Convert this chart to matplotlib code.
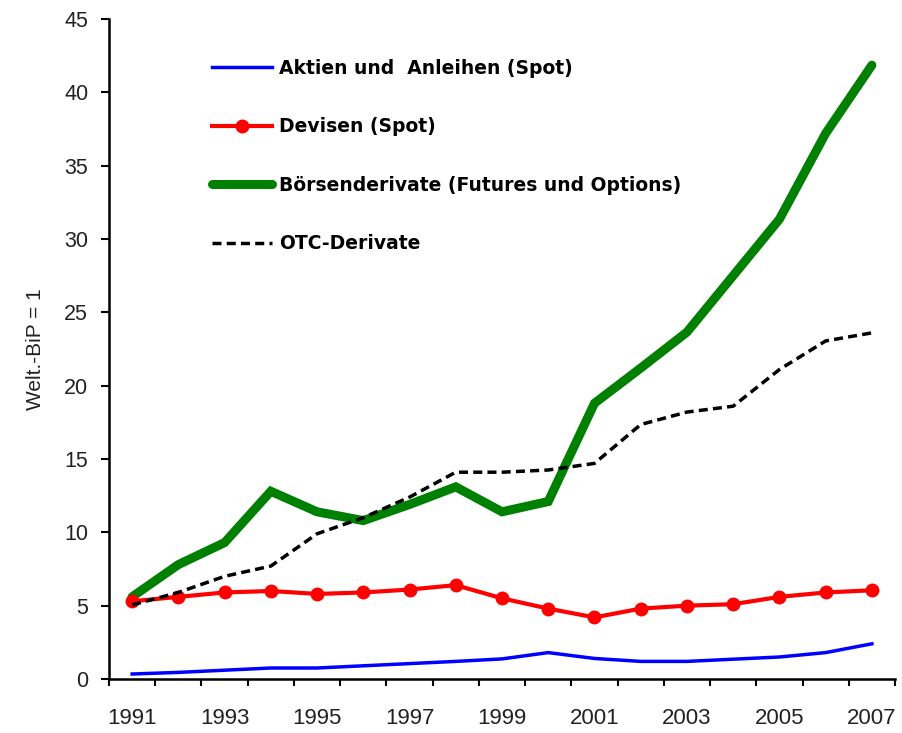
import numpy as np
import matplotlib
matplotlib.use("Agg")
import matplotlib.pyplot as plt

# Daten (Welt-BIP = 1)
jahre = list(range(1991, 2008))
aktien_anleihen = [0.34, 0.45, 0.6, 0.75, 0.75, 0.9, 1.05, 1.2, 1.37, 1.8, 1.4, 1.2, 1.2, 1.35, 1.5, 1.8, 2.4]
devisen = [5.3, 5.6, 5.9, 6.0, 5.8, 5.9, 6.1, 6.4, 5.5, 4.8, 4.2, 4.8, 5.0, 5.1, 5.6, 5.9, 6.05]
boersenderivate = [5.6, 7.8, 9.3, 12.8, 11.4, 10.8, 11.9, 13.1, 11.4, 12.1, 18.8, 21.2, 23.65, 27.5, 31.35, 37.2, 41.85]
otc_derivate = [5.05, 5.9, 7.0, 7.7, 9.9, 11.0, 12.4, 14.1, 14.1, 14.25, 14.7, 17.35, 18.2, 18.6, 21.1, 23.05, 23.6]

labels = ["Aktien und  Anleihen (Spot)", "Devisen (Spot)",
          "Börsenderivate (Futures und Options)", "OTC-Derivate"]

x = np.arange(len(jahre))
schrift = ["Liberation Sans", "DejaVu Sans"]

fig = plt.figure(figsize=(9.03, 7.33), dpi=100)
ax = fig.add_axes([109 / 903, 1 - 679 / 733, 786 / 903, 660 / 733])

l_gruen, = ax.plot(x, boersenderivate, color="#008000", lw=6.5, solid_capstyle="round",
                   solid_joinstyle="miter", zorder=2)
l_blau, = ax.plot(x, aktien_anleihen, color="#0000FF", lw=2.5, zorder=2)
l_rot, = ax.plot(x, devisen, color="#FF0000", lw=3, marker="o", markersize=9, zorder=3)
l_schwarz, = ax.plot(x, otc_derivate, color="black", lw=2.5, dashes=(2.6, 1.5), zorder=4)

ax.set_xlim(-0.5, len(jahre) - 0.5)
ax.set_ylim(0, 45)
ax.set_yticks(np.arange(0, 46, 5))

# Kategorienachse: Striche zwischen den Jahren, Beschriftung jedes zweite Jahr
ax.set_xticks(np.arange(-0.5, len(jahre), 1))
ax.set_xticklabels([])
ax.set_xticks(x[::2], minor=True)
ax.set_xticklabels([str(j) for j in jahre[::2]], minor=True)
ax.tick_params(axis="x", which="major", direction="out", length=5, width=1.5)
ax.tick_params(axis="x", which="minor", length=0, pad=21, labelsize=16, labelcolor="#222222")
ax.tick_params(axis="y", direction="out", length=6, width=1.5, pad=9, labelsize=15.5,
               labelcolor="#222222")
for lab in ax.get_xticklabels(minor=True) + ax.get_yticklabels():
    lab.set_family(schrift)

for s in ["top", "right"]:
    ax.spines[s].set_visible(False)
for s in ["left", "bottom"]:
    ax.spines[s].set_linewidth(1.8)

ax.set_ylabel("Welt.-BiP = 1", fontsize=15, color="#222222", labelpad=14, family=schrift)

ax.legend([l_blau, l_rot, l_gruen, l_schwarz], labels, loc="upper left",
          bbox_to_anchor=(0.11, 0.965), frameon=False, handlelength=3.2,
          handletextpad=0.35, labelspacing=2.1,
          prop={"family": "DejaVu Sans", "size": 13.5, "weight": "semibold"})

plt.savefig("out.png", dpi=100)
